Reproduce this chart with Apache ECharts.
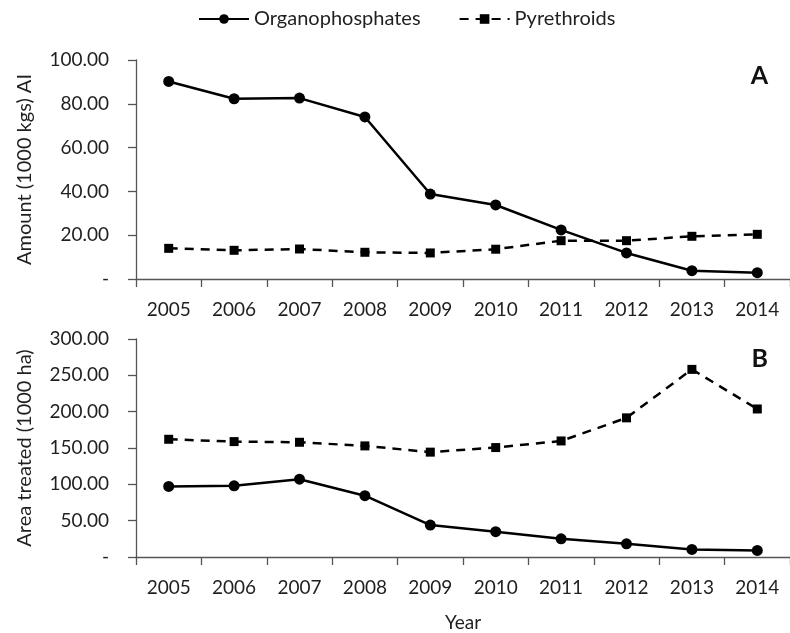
<!DOCTYPE html>
<html>
<head>
<meta charset="utf-8">
<script src="https://cdn.jsdelivr.net/npm/echarts@6/dist/echarts.min.js"></script>
<style>html,body{margin:0;padding:0;background:#fff}#c{width:790px;height:633px}</style>
</head>
<body>
<div id="c"></div>
<script>
const years = ['2005','2006','2007','2008','2009','2010','2011','2012','2013','2014'];
const amountOrgano = [90.2, 82.3, 82.6, 74.0, 38.8, 33.8, 22.4, 11.9, 3.8, 2.9];
const amountPyre   = [14.0, 13.1, 13.7, 12.2, 11.9, 13.6, 17.5, 17.5, 19.5, 20.4];
const areaOrgano   = [97.1, 98.0, 107.1, 84.4, 44.0, 34.9, 25.0, 18.1, 10.4, 9.1];
const areaPyre     = [162.0, 158.8, 157.9, 152.9, 144.3, 150.6, 159.7, 191.5, 258.2, 203.7];

const FONT = 'Lato';
const TXT = '#1f1f1f';
const AX = '#555555';
const fmt = v => v === 0 ? '-' : v.toFixed(2);

function xAxis(gi, withName) {
  return {
    type: 'category', gridIndex: gi, data: years,
    axisLine: {lineStyle: {color: AX, width: 1.3}},
    axisTick: {show: true, length: 8, alignWithLabel: false, lineStyle: {color: AX, width: 1.3}},
    axisLabel: {interval: 0, margin: 21, color: TXT, fontFamily: FONT, fontSize: 19},
    name: withName ? 'Year' : '', nameLocation: 'middle', nameGap: 56,
    nameTextStyle: {color: TXT, fontFamily: FONT, fontSize: 19}
  };
}
function yAxis(gi, max, interval, name) {
  return {
    type: 'value', gridIndex: gi, min: 0, max: max, interval: interval,
    splitLine: {show: false},
    axisLine: {show: true, lineStyle: {color: AX, width: 1.3}},
    axisTick: {show: true, length: 8, lineStyle: {color: AX, width: 1.3}},
    axisLabel: {margin: 27, color: TXT, fontFamily: FONT, fontSize: 19, formatter: fmt},
    name: name, nameLocation: 'middle', nameGap: 101, nameRotate: 90,
    nameTextStyle: {color: TXT, fontFamily: FONT, fontSize: 20}
  };
}
function organo(idx, data) {
  return {
    name: 'Organophosphates', type: 'line', xAxisIndex: idx, yAxisIndex: idx, data: data,
    symbol: 'circle', symbolSize: 11, color: '#000',
    lineStyle: {color: '#000', width: 2.5, type: 'solid'},
    itemStyle: {color: '#000'}, animation: false
  };
}
function pyre(idx, data) {
  return {
    name: 'Pyrethroids', type: 'line', xAxisIndex: idx, yAxisIndex: idx, data: data,
    symbol: 'rect', symbolSize: 9, color: '#000',
    lineStyle: {color: '#000', width: 2.5, type: [9, 7]},
    itemStyle: {color: '#000'}, animation: false
  };
}

const chart = echarts.init(document.getElementById('c'), null, {renderer: 'canvas'});
chart.setOption({
  backgroundColor: '#fff',
  animation: false,
  legend: {
    top: 4, left: 193, itemWidth: 50, itemHeight: 12, itemGap: 38,
    textStyle: {color: TXT, fontFamily: FONT, fontSize: 20},
    data: ['Organophosphates', 'Pyrethroids']
  },
  title: [
    {text: 'A', right: 17, top: 58, textStyle: {fontFamily: FONT, fontSize: 25, fontWeight: 'bold', color: '#111'}},
    {text: 'B', right: 17, top: 341, textStyle: {fontFamily: FONT, fontSize: 25, fontWeight: 'bold', color: '#111'}}
  ],
  grid: [
    {left: 136, top: 60, width: 662, height: 219},
    {left: 136, top: 339, width: 662, height: 220}
  ],
  xAxis: [xAxis(0, false), xAxis(1, true)],
  yAxis: [yAxis(0, 100, 20, 'Amount (1000 kgs) AI'), yAxis(1, 300, 50, 'Area treated (1000 ha)')],
  series: [organo(0, amountOrgano), pyre(0, amountPyre), organo(1, areaOrgano), pyre(1, areaPyre)]
});
</script>
</body>
</html>
